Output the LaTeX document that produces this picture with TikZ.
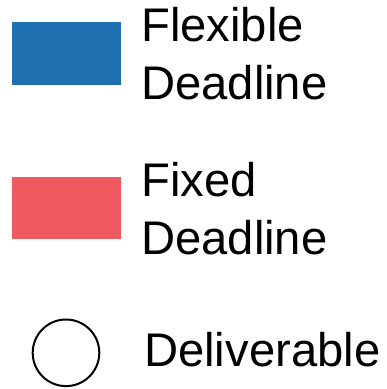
\documentclass[tikz,border=0pt]{standalone}
\usepackage{fontspec}
\setmainfont{Liberation Sans}
\definecolor{flexblue}{HTML}{1F70B0}
\definecolor{fixedred}{HTML}{EE5A60}
\begin{document}
\begin{tikzpicture}[x=1pt,y=-1pt,
  legtext/.style={anchor=base west,inner sep=0pt,align=left,
    font=\fontsize{47.2}{58}\selectfont}]
\useasboundingbox (0,0) rectangle (387,389);
\fill[flexblue] (12,22.3) rectangle (120.7,84.7);
\node[legtext] (flex) at (141,99.3) {Flexible\\Deadline};
\fill[fixedred] (12,177) rectangle (120.7,239.3);
\node[legtext] (fixed) at (141,254.7) {Fixed\\Deadline};
\draw[line width=2pt] (66,352.8) circle[radius=33.3];
\node[legtext] (deliv) at (144,366.7) {Deliverable};
\end{tikzpicture}
\end{document}
